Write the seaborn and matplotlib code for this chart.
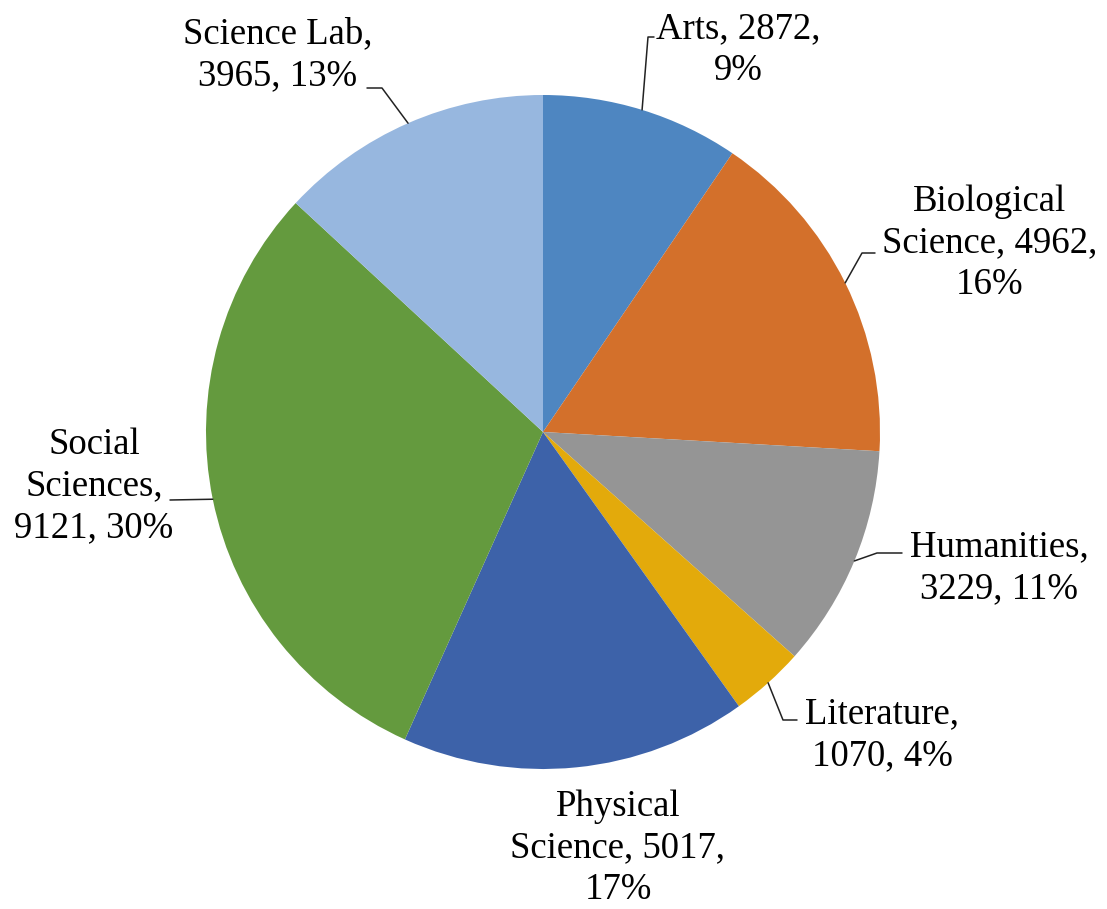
import numpy as np
import matplotlib
matplotlib.use("Agg")
import matplotlib.pyplot as plt
import seaborn as sns

# pie data: enrolments by field
categories = ["Arts", "Biological Science", "Humanities", "Literature",
              "Physical Science", "Social Sciences", "Science Lab"]
counts = [2872, 4962, 3229, 1070, 5017, 9121, 3965]
percents = ["9%", "16%", "11%", "4%", "17%", "30%", "13%"]
label_text = ["Arts, 2872,\n9%",
              "Biological\nScience, 4962,\n16%",
              "Humanities,\n3229, 11%",
              "Literature,\n1070, 4%",
              "Physical\nScience, 5017,\n17%",
              "Social\nSciences,\n9121, 30%",
              "Science Lab,\n3965, 13%"]
colors = ["#4E86C1", "#D3702B", "#959595", "#E3AA0B",
          "#3D62A9", "#649A3E", "#97B7DF"]

sns.set_theme(style="white")
plt.rcParams['font.family'] = ['Liberation Serif', 'DejaVu Serif']

W, H = 1107, 909
CX, CY, R = 543, 432, 337

def px(x, y):
    # pixel (from top-left) -> data coords
    return (x - CX) / R, (CY - y) / R

fig = plt.figure(figsize=(W / 100, H / 100), dpi=100)
ax = fig.add_axes([0, 0, 1, 1])
wedges, _ = ax.pie(counts, colors=colors, startangle=90, counterclock=False,
                   radius=1, center=(0, 0),
                   wedgeprops=dict(linewidth=0.6, edgecolor="none"))
ax.set_aspect("auto")
ax.set_xlim(-CX / R, (W - CX) / R)
ax.set_ylim(-(H - CY) / R, CY / R)
ax.axis("off")

# label centres and leader elbows, in pixels
label_pos = [(738, 50), (990, 243), (999, 568), (882, 735),
             (618, 848), (94, 486), (278, 55)]
leaders = [[(648, 37), (654, 37)],
           [(862, 253), (875, 253)],
           [(877, 553), (902, 553)],
           [(783, 720), (797, 720)],
           None,
           [(170, 500)],
           [(382, 88), (367, 88)]]

for w, txt, pos, lead in zip(wedges, label_text, label_pos, leaders):
    ax.text(*px(*pos), txt, ha="center", va="center", fontsize=26.5,
            color="black", linespacing=1.27)
    if lead is None:
        continue
    mid = np.deg2rad((w.theta1 + w.theta2) / 2)
    xs = [np.cos(mid) * w.r] + [px(*p)[0] for p in lead]
    ys = [np.sin(mid) * w.r] + [px(*p)[1] for p in lead]
    ax.plot(xs, ys, color="#222222", lw=1.1)

plt.savefig("out.png", dpi=100)
